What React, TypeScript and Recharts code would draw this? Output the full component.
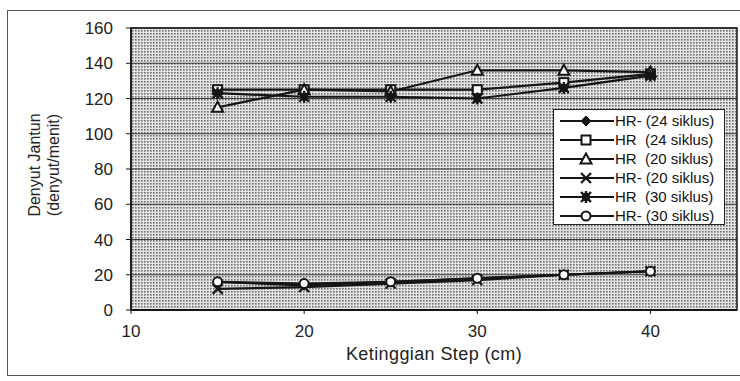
import { LineChart, Line, XAxis, YAxis, CartesianGrid, Legend, ReferenceArea, Label } from 'recharts';

// tinggi step (cm)
const steps = [15, 20, 25, 30, 35, 40];

const hrMin24 = [16, 14, 16, 18, 20, 22];
const hr24 = [125, 125, 125, 125, 129, 134];
const hr20 = [115, 125, 124, 136, 136, 135];
const hrMin20 = [12, 13, 15, 17, 20, 22];
const hr30 = [123, 121, 121, 120, 126, 133];
const hrMin30 = [16, 15, 16, 18, 20, 22];

const xTicks = [10, 20, 30, 40];
const yTicks = [0, 20, 40, 60, 80, 100, 120, 140, 160];

const seriesNames = [
  'HR- (24 siklus)',
  'HR  (24 siklus)',
  'HR  (20 siklus)',
  'HR- (20 siklus)',
  'HR  (30 siklus)',
  'HR- (30 siklus)',
];
const seriesValues = [hrMin24, hr24, hr20, hrMin20, hr30, hrMin30];
const seriesMarkers = ['diamond', 'square', 'triangle', 'x', 'star', 'circle'];

const data = steps.map((s, i) => {
  const row: Record<string, number> = { step: s };
  seriesNames.forEach((n, k) => {
    row['s' + k] = seriesValues[k][i];
  });
  return row;
});

const INK = '#151515';
const FONT = '"Liberation Sans", Arial, sans-serif';

function Marker({ kind, cx, cy }: { kind: string; cx: number; cy: number }) {
  const s = 5;
  switch (kind) {
    case 'diamond':
      return <polygon points={`${cx},${cy - s} ${cx + s},${cy} ${cx},${cy + s} ${cx - s},${cy}`} fill={INK} stroke={INK} strokeWidth={1} />;
    case 'square':
      return <rect x={cx - 4.5} y={cy - 4.5} width={9} height={9} fill="#fff" stroke={INK} strokeWidth={2} />;
    case 'triangle':
      return <polygon points={`${cx},${cy - 5.5} ${cx + 5.5},${cy + 4.5} ${cx - 5.5},${cy + 4.5}`} fill="#fff" stroke={INK} strokeWidth={2} />;
    case 'x':
      return (
        <g stroke={INK} strokeWidth={2.2}>
          <line x1={cx - s} y1={cy - s} x2={cx + s} y2={cy + s} />
          <line x1={cx - s} y1={cy + s} x2={cx + s} y2={cy - s} />
        </g>
      );
    case 'star':
      return (
        <g stroke={INK} strokeWidth={2.4}>
          <line x1={cx - s} y1={cy - s} x2={cx + s} y2={cy + s} />
          <line x1={cx - s} y1={cy + s} x2={cx + s} y2={cy - s} />
          <line x1={cx} y1={cy - s - 1} x2={cx} y2={cy + s + 1} />
          <circle cx={cx} cy={cy} r={3} fill={INK} />
        </g>
      );
    default:
      return <circle cx={cx} cy={cy} r={4.5} fill="#fff" stroke={INK} strokeWidth={2} />;
  }
}

function LegendBox() {
  return (
    <div
      style={{
        background: '#fff',
        border: '1px solid #222',
        boxSizing: 'border-box',
        width: 172,
        height: 116,
        padding: '1px 0 0 0',
        fontFamily: FONT,
        fontSize: 15,
        color: '#111',
      }}
    >
      {seriesNames.map((n, k) => (
        <div key={n} style={{ display: 'flex', alignItems: 'center', height: 19 }}>
          <svg width={60} height={14} style={{ flex: 'none' }}>
            <line x1={6} y1={7} x2={60} y2={7} stroke={INK} strokeWidth={2} />
            <Marker kind={seriesMarkers[k]} cx={32} cy={7} />
          </svg>
          <span style={{ whiteSpace: 'pre', marginLeft: 1 }}>{n}</span>
        </div>
      ))}
    </div>
  );
}

function YTitle(props: any) {
  const vb = props.viewBox || {};
  const cy = vb.y + vb.height / 2 - 4;
  return (
    <g fontFamily={FONT} fontSize={16} fill="#222">
      <text x={40} y={cy} textAnchor="middle" transform={`rotate(-90 40 ${cy})`}>
        Denyut Jantun
      </text>
      <text x={59} y={cy} textAnchor="middle" transform={`rotate(-90 59 ${cy})`}>
        (denyut/menit)
      </text>
    </g>
  );
}

export default function App() {
  return (
    <div style={{ position: 'absolute', left: 0, top: 0, width: 740, height: 381, background: '#fff' }}>
      <div
        style={{
          position: 'absolute',
          left: 7,
          top: 10,
          width: 733,
          height: 366,
          border: '1px solid #555',
          borderRight: 'none',
          boxSizing: 'border-box',
        }}
      />
      <LineChart
        width={740}
        height={381}
        data={data}
        margin={{ top: 28, right: 3, bottom: 0, left: 0 }}
        style={{ position: 'absolute', left: 0, top: 0, fontFamily: FONT }}
      >
        <defs>
          <pattern id="dots" width={3} height={3} patternUnits="userSpaceOnUse">
            <rect width={3} height={3} fill="#e4e4e4" />
            <rect width={1.6} height={1.6} fill="#6e6e6e" />
          </pattern>
        </defs>
        <CartesianGrid vertical={false} horizontal fill="url(#dots)" stroke="#3a3a3a" strokeWidth={1} horizontalValues={yTicks} />
        <XAxis
          dataKey="step"
          type="number"
          domain={[10, 45]}
          ticks={xTicks}
          allowDataOverflow
          tickSize={4}
          tickMargin={11}
          height={71}
          axisLine={{ stroke: INK, strokeWidth: 2 }}
          tickLine={{ stroke: INK }}
          tick={{ fill: '#222', fontSize: 17 }}
        >
          <Label
            value="Ketinggian Step  (cm)"
            position="insideBottom"
            offset={21}
            style={{ fill: '#222', fontSize: 18, whiteSpace: 'pre', letterSpacing: 0.4 }}
          />
        </XAxis>
        <YAxis
          type="number"
          domain={[0, 160]}
          ticks={yTicks}
          width={131}
          tickSize={5}
          tickMargin={13}
          axisLine={{ stroke: INK, strokeWidth: 1.5 }}
          tickLine={{ stroke: INK }}
          tick={{ fill: '#222', fontSize: 17 }}
        >
          <Label content={<YTitle />} />
        </YAxis>
        <ReferenceArea x1={10} x2={45} y1={0} y2={160} fill="none" stroke={INK} strokeWidth={1.5} ifOverflow="visible" />
        {seriesNames.map((n, k) => (
          <Line
            key={n}
            name={n}
            dataKey={'s' + k}
            type="linear"
            stroke={INK}
            strokeWidth={2.2}
            isAnimationActive={false}
            dot={(p: any) => <Marker key={`${k}-${p.index}`} kind={seriesMarkers[k]} cx={p.cx} cy={p.cy} />}
            activeDot={false}
          />
        ))}
        <Legend
          layout="vertical"
          align="center"
          verticalAlign="middle"
          content={() => <LegendBox />}
          wrapperStyle={{ position: 'absolute', left: 553, top: 109, width: 172, height: 116 }}
        />
      </LineChart>
    </div>
  );
}
